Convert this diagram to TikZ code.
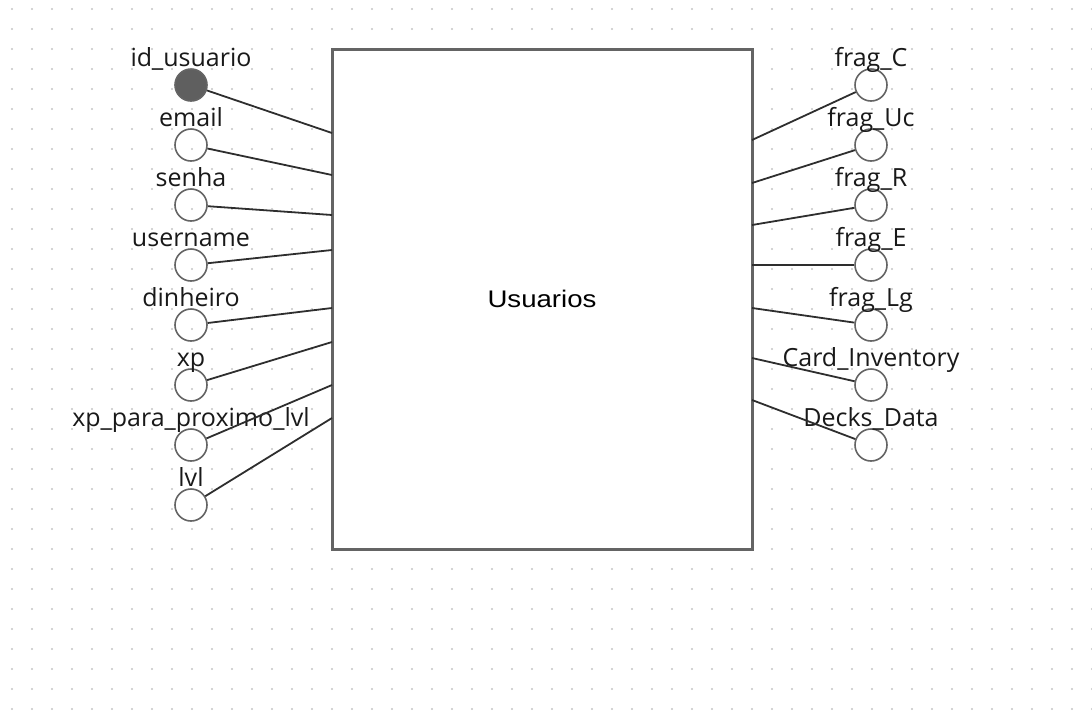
\documentclass[tikz,border=0pt]{standalone}
\usepackage{fontspec}
\setmainfont{Open Sans}
\newfontfamily\boxfont[FakeStretch=1.15]{Liberation Sans}
\usetikzlibrary{positioning}

\definecolor{dotgray}{HTML}{C4C4C4}
\definecolor{edgegray}{HTML}{646464}
\definecolor{keygray}{HTML}{5F5F5F}
\definecolor{linegray}{HTML}{2E2E2E}

\tikzset{
  entity/.style={draw=edgegray, fill=white, line width=3pt, minimum width=420pt, minimum height=500pt,
    font=\boxfont\fontsize{24}{28}\selectfont},
  attr/.style={draw=edgegray, circle, line width=1.6pt, minimum size=32pt, inner sep=0pt},
  keyattr/.style={attr, fill=keygray},
  lbl/.style={anchor=base, inner sep=0pt, text=black!90, font=\fontsize{25}{30}\selectfont},
  link/.style={draw=linegray, line width=1.8pt},
}

\begin{document}
\begin{tikzpicture}[x=1pt, y=-1pt]
\useasboundingbox (0,0) rectangle (1092,713);

% Dotted background
\foreach \gx in {12,32,...,1092}
  \foreach \gy in {9,29,...,713}
    \fill[dotgray] (\gx,\gy) circle (1.1pt);

% Entity
\node[entity] (usuarios) at (542,299) {Usuarios};

% Attachment points on the entity
\coordinate (w1) at (332,133);
\coordinate (w2) at (332,175);
\coordinate (w3) at (332,215);
\coordinate (w4) at (332,250);
\coordinate (w5) at (332,308);
\coordinate (w6) at (332,342);
\coordinate (w7) at (332,385);
\coordinate (w8) at (332,418);

\coordinate (e1) at (752,140);
\coordinate (e2) at (752,183);
\coordinate (e3) at (752,225);
\coordinate (e4) at (752,265);
\coordinate (e5) at (752,308);
\coordinate (e6) at (752,358);
\coordinate (e7) at (752,400);

% Attributes on the left
\node[keyattr] (idusuario) at (191,85) {};
\node[lbl] (tidusuario) at (191,66) {id\_usuario};
\draw[link] (idusuario) -- (w1);

\node[attr] (email) at (191,145) {};
\node[lbl] (temail) at (191,126) {email};
\draw[link] (email) -- (w2);

\node[attr] (senha) at (191,205) {};
\node[lbl] (tsenha) at (191,186) {senha};
\draw[link] (senha) -- (w3);

\node[attr] (username) at (191,265) {};
\node[lbl] (tusername) at (191,246) {username};
\draw[link] (username) -- (w4);

\node[attr] (dinheiro) at (191,325) {};
\node[lbl] (tdinheiro) at (191,306) {dinheiro};
\draw[link] (dinheiro) -- (w5);

\node[attr] (xp) at (191,385) {};
\node[lbl] (txp) at (191,366) {xp};
\draw[link] (xp) -- (w6);

\node[attr] (xpprox) at (191,445) {};
\node[lbl] (txpprox) at (191,426) {xp\_para\_proximo\_lvl};
\draw[link] (xpprox) -- (w7);

\node[attr] (lvl) at (191,505) {};
\node[lbl] (tlvl) at (191,486) {lvl};
\draw[link] (lvl) -- (w8);

% Attributes on the right
\node[attr] (fragc) at (871,85) {};
\node[lbl] (tfragc) at (871,66) {frag\_C};
\draw[link] (fragc) -- (e1);

\node[attr] (fraguc) at (871,145) {};
\node[lbl] (tfraguc) at (871,126) {frag\_Uc};
\draw[link] (fraguc) -- (e2);

\node[attr] (fragr) at (871,205) {};
\node[lbl] (tfragr) at (871,186) {frag\_R};
\draw[link] (fragr) -- (e3);

\node[attr] (frage) at (871,265) {};
\node[lbl] (tfrage) at (871,246) {frag\_E};
\draw[link] (frage) -- (e4);

\node[attr] (fraglg) at (871,325) {};
\node[lbl] (tfraglg) at (871,306) {frag\_Lg};
\draw[link] (fraglg) -- (e5);

\node[attr] (cardinv) at (871,385) {};
\node[lbl] (tcardinv) at (871,366) {Card\_Inventory};
\draw[link] (cardinv) -- (e6);

\node[attr] (decks) at (871,445) {};
\node[lbl] (tdecks) at (871,426) {Decks\_Data};
\draw[link] (decks) -- (e7);
\end{tikzpicture}
\end{document}
